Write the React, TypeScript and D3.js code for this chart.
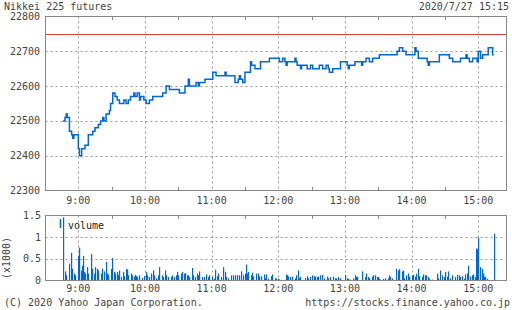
import React from "react";
import * as d3 from "d3";

const priceTimes: string[] = [
  "8:46","8:48","8:49","8:50","8:52","8:54","8:55","8:56","9:00","9:01","9:03","9:06","9:09","9:13","9:15","9:18","9:20","9:22","9:23","9:25","9:28","9:29","9:31","9:33","9:35","9:37","9:41","9:43","9:45","9:47","9:50","9:51","9:53","9:55","9:56","9:59",
  "10:01","10:04","10:07","10:16","10:19","10:22","10:31","10:36","10:39","10:40","10:46","10:48","10:49","10:54",
  "11:01","11:04","11:12","11:13","11:21","11:24","11:25","11:26","11:28","11:30","11:35","11:36","11:39","11:44","11:52",
  "12:01","12:04","12:06","12:07","12:08","12:15","12:16","12:17","12:20","12:21","12:26","12:29","12:31","12:37","12:40","12:43","12:45","12:46","12:49","12:56",
  "13:02","13:03","13:04","13:09","13:15","13:16","13:19","13:22","13:25","13:31","13:47","13:49","13:52","13:55",
  "14:03","14:04","14:06","14:14","14:15","14:16","14:25","14:34","14:37","14:44","14:49","14:50","14:52","14:55","14:59",
  "15:00","15:02","15:04","15:09","15:13","15:14"
];
const prices: number[] = [
  22500,22510,22520,22510,22470,22460,22450,22460,22420,22400,22420,22430,22460,22470,22480,22490,22500,22510,22500,22520,22530,22550,22580,22570,22560,22550,22560,22550,22560,22570,22580,22570,22580,22560,22570,22560,
  22550,22560,22570,22580,22600,22590,22580,22600,22620,22600,22610,22600,22610,22620,
  22640,22630,22640,22630,22610,22620,22630,22620,22610,22640,22670,22660,22650,22670,22680,
  22670,22680,22670,22660,22670,22680,22670,22660,22650,22660,22650,22660,22650,22660,22650,22660,22650,22640,22650,22670,
  22660,22650,22660,22670,22660,22670,22680,22670,22680,22690,22700,22710,22700,22690,
  22710,22700,22680,22670,22660,22670,22690,22680,22670,22680,22690,22680,22670,22680,22670,
  22700,22680,22690,22710,22690,22690
];

const volTimes: string[] = [
  "8:46","8:48","8:49","8:52","8:53","8:54","8:56","8:57","9:00","9:01","9:02","9:03","9:04","9:05","9:06","9:08","9:09","9:11","9:12","9:14","9:15","9:17","9:18","9:20","9:21","9:23","9:25","9:26","9:27","9:29","9:30","9:32","9:33","9:35","9:36","9:37","9:38","9:40","9:41","9:43","9:44","9:45","9:47","9:48","9:50","9:51","9:52","9:53","9:55","9:57","9:59",
  "10:01","10:02","10:04","10:05","10:07","10:08","10:10","10:12","10:13","10:15","10:16","10:18","10:19","10:21","10:23","10:24","10:26","10:28","10:29","10:30","10:32","10:33","10:35","10:36","10:38","10:39","10:40","10:42","10:43","10:45","10:47","10:48","10:49","10:51","10:53","10:55","10:57","10:58",
  "11:00","11:02","11:03","11:05","11:06","11:08","11:10","11:12","11:13","11:15","11:17","11:19","11:21","11:23","11:25","11:26","11:28","11:30","11:31","11:32","11:33","11:35","11:36","11:37","11:40","11:42","11:43","11:44","11:47","11:48","11:49","11:51","11:53","11:54","11:57","11:58",
  "12:00","12:01","12:07","12:08","12:09","12:11","12:12","12:15","12:16","12:18","12:19","12:20","12:24","12:26","12:27","12:29","12:30","12:32","12:33","12:35","12:36","12:38","12:39","12:41","12:44","12:45","12:47","12:49","12:51","12:52","12:54","12:55","12:56",
  "13:00","13:02","13:03","13:05","13:07","13:09","13:10","13:11","13:15","13:18","13:19","13:21","13:22","13:24","13:25","13:27","13:29","13:30","13:31","13:32","13:34","13:36","13:39","13:40","13:41","13:42","13:46","13:48","13:49","13:51","13:52","13:53","13:55","13:57","13:58",
  "14:00","14:01","14:03","14:04","14:06","14:07","14:09","14:10","14:12","14:13","14:15","14:16","14:18","14:23","14:24","14:26","14:27","14:29","14:30","14:32","14:33","14:35","14:36","14:39","14:41","14:43","14:44","14:45","14:47","14:48","14:50","14:51","14:53","14:54","14:55","14:57","14:58","14:59",
  "15:00","15:02","15:03","15:04","15:05","15:06","15:08","15:14"
];
const volumes: number[] = [
  1.46,0.21,0.12,0.39,0.64,0.27,0.16,0.12,0.57,0.76,0.23,0.34,0.57,0.2,0.16,0.31,0.16,0.61,0.27,0.16,0.31,0.27,0.23,0.16,0.27,0.21,0.43,0.16,0.13,0.27,0.52,0.2,0.16,0.2,0.12,0.23,0.08,0.2,0.1,0.27,0.25,0.12,0.16,0.12,0.09,0.13,0.1,0.08,0.12,0.06,0.1,
  0.2,0.12,0.08,0.16,0.23,0.12,0.05,0.12,0.31,0.12,0.08,0.23,0.12,0.08,0.09,0.12,0.08,0.12,0.2,0.12,0.16,0.2,0.16,0.17,0.12,0.12,0.08,0.29,0.12,0.08,0.16,0.12,0.21,0.08,0.08,0.14,0.08,0.12,
  0.08,0.04,0.25,0.1,0.16,0.08,0.31,0.2,0.08,0.05,0.12,0.12,0.12,0.12,0.12,0.21,0.12,0.16,0.37,0.16,0.2,0.12,0.18,0.09,0.16,0.16,0.09,0.1,0.14,0.05,0.14,0.04,0.1,0.14,0.05,0.05,
  0.04,0.02,0.14,0.12,0.09,0.08,0.09,0.05,0.12,0.23,0.05,0.08,0.06,0.1,0.05,0.08,0.12,0.1,0.09,0.08,0.09,0.12,0.13,0.05,0.09,0.05,0.08,0.09,0.05,0.05,0.08,0.02,0.05,
  0.13,0.05,0.04,0.02,0.05,0.12,0.08,0.09,0.21,0.08,0.16,0.08,0.05,0.09,0.12,0.12,0.08,0.08,0.04,0.02,0.04,0.05,0.05,0.12,0.08,0.05,0.27,0.23,0.26,0.21,0.23,0.05,0.12,0.16,0.09,
  0.12,0.13,0.09,0.16,0.27,0.1,0.09,0.14,0.12,0.12,0.08,0.04,0.02,0.16,0.05,0.23,0.12,0.08,0.2,0.09,0.21,0.05,0.12,0.08,0.13,0.12,0.08,0.1,0.04,0.14,0.16,0.34,0.09,0.12,0.14,0.08,0.74,0.72,
  0.99,0.31,0.27,0.16,0.09,0.08,0.04,1.08
];

const priceTicks: number[] = [22300, 22400, 22500, 22600, 22700, 22800];
const prevClose = 22750;
const hourLabels: string[] = ["9:00", "10:00", "11:00", "12:00", "13:00", "14:00", "15:00"];
const halfHourTicks: string[] = ["9:30", "10:30", "11:30", "12:30", "13:30", "14:30"];
const volTicks: number[] = [0, 0.5, 1, 1.5];
const volTickLabels: string[] = ["0", "0.5", "1", "1.5"];

const toMin = (s: string) => {
  const [h, m] = s.split(":").map(Number);
  return h * 60 + m;
};

export default function App() {
  const W = 512, H = 310;
  const left = 45.5, right = 506.5;
  const x = d3.scaleLinear().domain([toMin("8:30"), toMin("15:25")]).range([45, 506]);
  const y = d3.scaleLinear().domain([22300, 22800]).range([190.5, 16.5]);
  const yv = d3.scaleLinear().domain([0, 1.5]).range([280.5, 215.5]);

  const pts = priceTimes.map((t, i) => [toMin(t), prices[i]] as [number, number]);
  const line = d3.line<[number, number]>().x(d => x(d[0])).y(d => y(d[1])).curve(d3.curveStepAfter);

  const font = "'DejaVu Sans Mono', monospace";
  const txt = "#444";
  const grid = "#999";
  const frame = "#888";
  const blue = "#0066dd";
  const snap = (v: number) => Math.round(v) + 0.5;

  return (
    <svg width={W} height={H} style={{ position: "absolute", left: 0, top: 0, background: "#fff" }} fontFamily={font} fontSize={10}>
      <rect width={W} height={H} fill="#fff" />
      <text x={4} y={10} fill={txt}>Nikkei 225 futures</text>
      <text x={509} y={10} fill={txt} textAnchor="end">2020/7/27 15:15</text>

      {priceTicks.slice(1, -1).map(p => (
        <line key={p} x1={left} x2={right} y1={snap(y(p))} y2={snap(y(p))} stroke={grid} strokeDasharray="2,3" />
      ))}
      {hourLabels.map(h => (
        <line key={h} x1={snap(x(toMin(h)))} x2={snap(x(toMin(h)))} y1={16.5} y2={190.5} stroke={grid} strokeDasharray="2,3" />
      ))}
      {halfHourTicks.map(h => (
        <g key={h}>
          <line x1={snap(x(toMin(h)))} x2={snap(x(toMin(h)))} y1={16.5} y2={20} stroke={frame} />
          <line x1={snap(x(toMin(h)))} x2={snap(x(toMin(h)))} y1={187} y2={190.5} stroke={frame} />
        </g>
      ))}
      <line x1={left} x2={right} y1={snap(y(prevClose))} y2={snap(y(prevClose))} stroke="#e03a3a" />
      <path d={line(pts) || ""} fill="none" stroke={blue} strokeWidth={1.5} />
      <rect x={left} y={16.5} width={right - left} height={174} fill="none" stroke={frame} />
      {priceTicks.map(p => (
        <text key={p} x={40} y={y(p) + 3.5} fill={txt} textAnchor="end">{p}</text>
      ))}
      {hourLabels.map(h => (
        <text key={h} x={x(toMin(h))} y={204} fill={txt} textAnchor="middle">{h}</text>
      ))}

      {volTicks.slice(1, -1).map(v => (
        <line key={v} x1={left} x2={right} y1={snap(yv(v))} y2={snap(yv(v))} stroke={grid} strokeDasharray="2,3" />
      ))}
      {hourLabels.map(h => (
        <line key={h} x1={snap(x(toMin(h)))} x2={snap(x(toMin(h)))} y1={215.5} y2={280.5} stroke={grid} strokeDasharray="2,3" />
      ))}
      {halfHourTicks.map(h => (
        <line key={h} x1={snap(x(toMin(h)))} x2={snap(x(toMin(h)))} y1={215.5} y2={219} stroke={frame} />
      ))}
      {volTimes.map((t, i) => (
        <rect key={i} x={Math.round(x(toMin(t)))} y={yv(volumes[i])} width={1.2} height={yv(0) - yv(volumes[i])} fill={blue} />
      ))}
      <rect x={left} y={215.5} width={right - left} height={65} fill="none" stroke={frame} />
      <line x1={60.5} x2={60.5} y1={219} y2={228} stroke={blue} strokeWidth={1.5} />
      <text x={68} y={229} fill="#222">volume</text>
      {volTicks.map((v, i) => (
        <text key={v} x={41} y={yv(v) + 3.5} fill={txt} textAnchor="end">{volTickLabels[i]}</text>
      ))}
      <text transform="translate(10,258) rotate(-90)" fill={txt} textAnchor="middle">(x1000)</text>
      {hourLabels.map(h => (
        <text key={h} x={x(toMin(h))} y={292} fill={txt} textAnchor="middle">{h}</text>
      ))}
      <text x={4} y={306} fill={txt}>(C) 2020 Yahoo Japan Corporation.</text>
      <text x={510} y={306} fill={txt} textAnchor="end">https://stocks.finance.yahoo.co.jp</text>
    </svg>
  );
}
